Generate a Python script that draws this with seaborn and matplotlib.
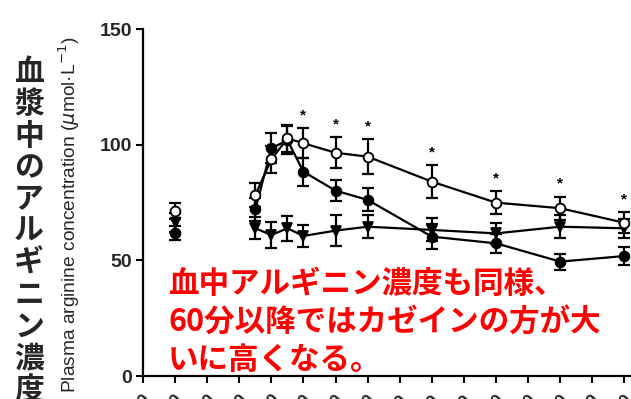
import matplotlib
matplotlib.use("Agg")
import matplotlib.pyplot as plt
import seaborn as sns
import pandas as pd
import numpy as np

# ---- data ----
times = [-90, -15, 0, 15, 30, 60, 90, 150, 210, 270, 330]
tick_values = [-120, -90, -60, -30, 0, 30, 60, 90, 120, 150, 180, 210, 240, 270, 300, 330]
casein = [71.5, 78.3, 93.7, 102.8, 100.7, 96.6, 94.9, 84.1, 75.0, 72.6, 66.3]
casein_se = [3.5, 5.0, 6.0, 6.0, 6.5, 6.7, 7.5, 7.0, 5.0, 5.0, 4.5]
whey = [61.7, 72.1, 98.5, 102.0, 88.4, 80.2, 76.2, 60.3, 57.4, 49.5, 51.9]
whey_se = [3.0, 5.0, 6.5, 6.0, 6.0, 4.7, 5.0, 5.5, 4.0, 3.5, 4.0]
placebo = [66.5, 63.9, 61.0, 63.9, 60.6, 62.9, 64.6, 63.2, 61.7, 64.6, 63.9]
placebo_se = [4.0, 4.7, 5.8, 5.4, 4.7, 6.8, 5.0, 5.0, 4.5, 5.0, 4.0]
significant = [False, False, False, False, True, True, True, True, True, True, True]
y_ticks = [0, 50, 100, 150]

panel_title = "arginine"
ylabel_en = r"Plasma arginine concentration ($\mu$mol·L$^{-1}$)"
ylabel_jp = "血漿中のアルギニン濃度"
note_lines = ["血中アルギニン濃度も同様、", "60分以降ではカゼインの方が大", "いに高くなる。"]

sns.set_theme(style="ticks")
plt.rcParams["font.family"] = ["Liberation Sans", "DejaVu Sans"]

fig = plt.figure(figsize=(6.31, 3.99), dpi=100)
ax = fig.add_axes([0.2266, 0.0576, 0.7734, 0.869])

series = [
    ("casein", casein, casein_se, "o", "white", 4),
    ("whey", whey, whey_se, "o", "black", 3),
    ("placebo", placebo, placebo_se, "v", "black", 2),
]

for name, vals, se, mk, fc, z in series:
    df = pd.DataFrame({"time": times[1:], "value": vals[1:]})
    sns.lineplot(data=df, x="time", y="value", ax=ax, color="black", lw=1.6,
                 marker=mk, markersize=7, markerfacecolor=fc, markeredgecolor="black",
                 markeredgewidth=1.3, zorder=z + 1, clip_on=False)
    base = pd.DataFrame({"time": times[:1], "value": vals[:1]})
    sns.scatterplot(data=base, x="time", y="value", ax=ax, marker=mk, s=50,
                    color=fc, edgecolor="black", linewidth=1.3, zorder=z + 1, clip_on=False)
    ax.errorbar(times, vals, yerr=se, fmt="none", ecolor="black", elinewidth=1.6,
                capsize=4.5, capthick=1.6, zorder=z, clip_on=False)

for t, v, e, s in zip(times, casein, casein_se, significant):
    if s:
        ax.text(t, v + e + 5.5, "*", ha="center", va="center", fontsize=11,
                fontweight="bold", color="black")

ax.set_xlim(-120, 336.2)
ax.set_ylim(0, 150)
ax.set_xticks(tick_values)
ax.set_xticklabels([str(t) for t in tick_values], rotation=45, ha="right",
                   fontsize=13, fontweight="bold", rotation_mode="anchor")
ax.set_yticks(y_ticks)
ax.set_yticklabels([str(t) for t in y_ticks], fontsize=14, fontweight="bold")
ax.tick_params(axis="both", direction="out", length=5, width=1.5, color="black", pad=3)
ax.tick_params(axis="x", pad=6)
for sp in ["top", "right"]:
    ax.spines[sp].set_visible(False)
for sp in ["left", "bottom"]:
    ax.spines[sp].set_linewidth(1.6)
    ax.spines[sp].set_color("black")
ax.set_xlabel("")
ax.set_ylabel("")

ax.text(409, 143, panel_title, ha="center", va="center", fontsize=11, fontweight="bold")

fig.text(69 / 631, 1 - 215 / 399, ylabel_en, rotation=90, ha="center", va="center",
         fontsize=13.8)

for i, ch in enumerate(ylabel_jp):
    fig.text(29 / 631, 1 - (72 + 31.8 * i) / 399, ch, ha="center", va="center",
             fontsize=21.5, fontweight="bold", family=["Noto Sans CJK JP", "DejaVu Sans"])

for i, line in enumerate(note_lines):
    fig.text(168 / 631, 1 - (284 + 38 * i) / 399, line, ha="left", va="center",
             fontsize=22, fontweight="bold", color="#ff0000",
             family=["Noto Sans CJK JP", "DejaVu Sans"])

fig.savefig("out.png", dpi=100)
